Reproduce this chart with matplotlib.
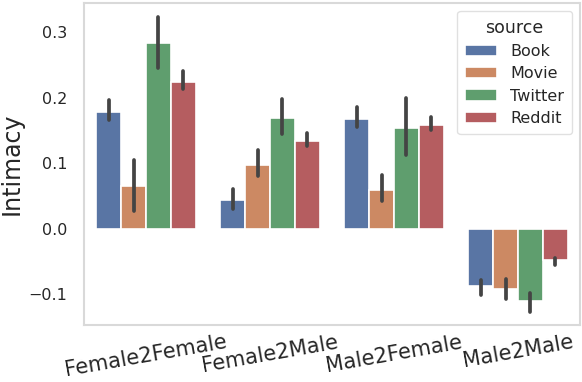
import numpy as np
import matplotlib
matplotlib.use('Agg')
import matplotlib.pyplot as plt

groups = ['Female2Female', 'Female2Male', 'Male2Female', 'Male2Male']
sources = ['Book', 'Movie', 'Twitter', 'Reddit']
colors = ['#5975a4', '#cc8963', '#5f9e6e', '#b55d60']

# mean values per source, one entry per group
means = {
    'Book':    [0.178, 0.044, 0.168, -0.088],
    'Movie':   [0.066, 0.098, 0.060, -0.092],
    'Twitter': [0.284, 0.169, 0.154, -0.111],
    'Reddit':  [0.224, 0.134, 0.159, -0.048],
}
ci_low = {
    'Book':    [0.166, 0.031, 0.155, -0.101],
    'Movie':   [0.027, 0.080, 0.042, -0.108],
    'Twitter': [0.245, 0.145, 0.112, -0.127],
    'Reddit':  [0.214, 0.126, 0.151, -0.055],
}
ci_high = {
    'Book':    [0.197, 0.061, 0.186, -0.078],
    'Movie':   [0.105, 0.120, 0.082, -0.077],
    'Twitter': [0.324, 0.198, 0.200, -0.098],
    'Reddit':  [0.241, 0.147, 0.171, -0.045],
}

fig = plt.figure(figsize=(5.82, 3.82), dpi=100)
ax = fig.add_axes([84/582, 1-325/382, 496/582, 322/382])

x = np.arange(len(groups))
w = 0.2
for i, s in enumerate(sources):
    pos = x - 0.3 + i*w
    ax.bar(pos, means[s], width=w, color=colors[i], edgecolor='white', linewidth=1.2, label=s)
    for p, lo, hi in zip(pos, ci_low[s], ci_high[s]):
        ax.plot([p, p], [lo, hi], color='#444444', lw=2.7, solid_capstyle='round')

ax.set_xlim(-0.5, 3.5)
ax.set_ylim(-0.147, 0.345)
ax.set_yticks([-0.1, 0.0, 0.1, 0.2, 0.3])
ax.set_yticklabels(['\u22120.1', '0.0', '0.1', '0.2', '0.3'])
ax.set_xticks(x)
ax.set_xticklabels(groups, rotation=10, fontsize=15, color='#262626')
ax.tick_params(axis='y', labelsize=11.5, colors='#262626', length=0, pad=12)
ax.tick_params(axis='x', length=0, pad=5)
ax.set_ylabel('Intimacy', fontsize=17, color='#262626')
ax.yaxis.set_label_coords(-60/496, 0.5)
for sp in ax.spines.values():
    sp.set_color('#d9d9d9')
    sp.set_linewidth(1.5)

leg = ax.legend(title='source', loc='upper right', fontsize=11.5, title_fontsize=12.5,
                frameon=True, handlelength=2.0, borderpad=0.5, labelspacing=0.45)
leg.get_frame().set_edgecolor('#d9d9d9')
leg.get_title().set_color('#262626')
for t in leg.get_texts():
    t.set_color('#262626')

fig.savefig('out.png', dpi=100)
